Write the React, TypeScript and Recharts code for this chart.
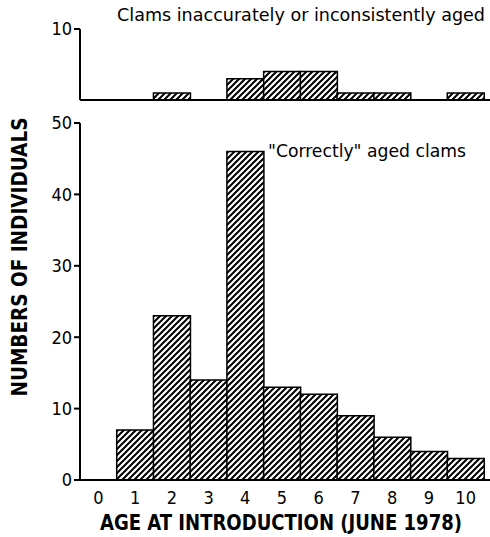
import React from 'react';
import { BarChart, Bar, XAxis, YAxis } from 'recharts';

// age at introduction (June 1978)
const ages = ['0', '1', '2', '3', '4', '5', '6', '7', '8', '9', '10'];
// clams inaccurately or inconsistently aged
const inaccurateCounts = [0, 0, 1, 0, 3, 4, 4, 1, 1, 0, 1];
// "correctly" aged clams
const correctCounts = [0, 7, 23, 14, 46, 13, 12, 9, 6, 4, 3];

const topTicks = [0, 10];
const bottomTicks = [0, 10, 20, 30, 40, 50];

const topData = ages.map((age, i) => ({ age, count: inaccurateCounts[i] }));
const bottomData = ages.map((age, i) => ({ age, count: correctCounts[i] }));

const FONT = '"DejaVu Sans Condensed", "Liberation Sans Narrow", Roboto, sans-serif';
const tickStyle = { fontSize: 18, fill: '#000', fontFamily: FONT };

const Hatch = ({ id }: { id: string }) => (
  <defs>
    <pattern id={id} width="6" height="6" patternUnits="userSpaceOnUse">
      <rect width="6" height="6" fill="#fff" />
      <path d="M-1,1 l2,-2 M0,6 l6,-6 M5,7 l2,-2" stroke="#000" strokeWidth="2" />
    </pattern>
  </defs>
);

const App: React.FC = () => {
  return (
    <div style={{ position: 'absolute', left: 0, top: 0, width: 490, height: 537, background: '#fff' }}>
      {/* top panel */}
      <div style={{ position: 'absolute', left: 0, top: 0 }}>
        <BarChart
          width={490}
          height={110}
          data={topData}
          barCategoryGap={0}
          margin={{ top: 29, right: 0, left: 40, bottom: 9 }}
        >
          <Hatch id="hatchTop" />
          <XAxis
            dataKey="age"
            height={1}
            tick={false}
            tickLine={false}
            padding={{ left: 0, right: 6 }}
            axisLine={{ stroke: '#000', strokeWidth: 2 }}
          />
          <YAxis
            width={40}
            domain={[0, 10]}
            ticks={topTicks}
            tickSize={6}
            tickMargin={2}
            tick={tickStyle}
            axisLine={{ stroke: '#000', strokeWidth: 2 }}
            tickLine={{ stroke: '#000', strokeWidth: 2 }}
          />
          <Bar dataKey="count" fill="url(#hatchTop)" stroke="#000" strokeWidth={1.5} isAnimationActive={false} />
        </BarChart>
      </div>

      {/* bottom panel */}
      <div style={{ position: 'absolute', left: 0, top: 110 }}>
        <BarChart
          width={490}
          height={427}
          data={bottomData}
          barCategoryGap={0}
          margin={{ top: 13, right: 0, left: 40, bottom: 27 }}
        >
          <Hatch id="hatchBottom" />
          <XAxis
            dataKey="age"
            height={30}
            tickLine={false}
            tickSize={0}
            tickMargin={11}
            tick={tickStyle}
            interval={0}
            padding={{ left: 0, right: 6 }}
            axisLine={{ stroke: '#000', strokeWidth: 2 }}
          />
          <YAxis
            width={40}
            domain={[0, 50]}
            ticks={bottomTicks}
            tickSize={6}
            tickMargin={2}
            tick={tickStyle}
            axisLine={{ stroke: '#000', strokeWidth: 2 }}
            tickLine={{ stroke: '#000', strokeWidth: 2 }}
          />
          <Bar dataKey="count" fill="url(#hatchBottom)" stroke="#000" strokeWidth={1.5} isAnimationActive={false} />
        </BarChart>
      </div>

      {/* titles and axis labels */}
      <svg
        width={490}
        height={537}
        style={{ position: 'absolute', left: 0, top: 0, pointerEvents: 'none' }}
        fontFamily={FONT}
      >
        <text x={117} y={21} fontSize={18} textLength={368} lengthAdjust="spacingAndGlyphs">
          Clams inaccurately or inconsistently aged
        </text>
        <text x={268} y={157} fontSize={18} textLength={198} lengthAdjust="spacingAndGlyphs">
          "Correctly" aged clams
        </text>
        <text
          x={0}
          y={0}
          transform="translate(27, 257) rotate(-90)"
          textAnchor="middle"
          fontSize={21}
          fontWeight="bold"
          textLength={279}
          lengthAdjust="spacingAndGlyphs"
        >
          NUMBERS OF INDIVIDUALS
        </text>
        <text
          x={100}
          y={530}
          fontSize={21}
          fontWeight="bold"
          textLength={362}
          lengthAdjust="spacingAndGlyphs"
        >
          AGE AT INTRODUCTION (JUNE 1978)
        </text>
      </svg>
    </div>
  );
};

export default App;
